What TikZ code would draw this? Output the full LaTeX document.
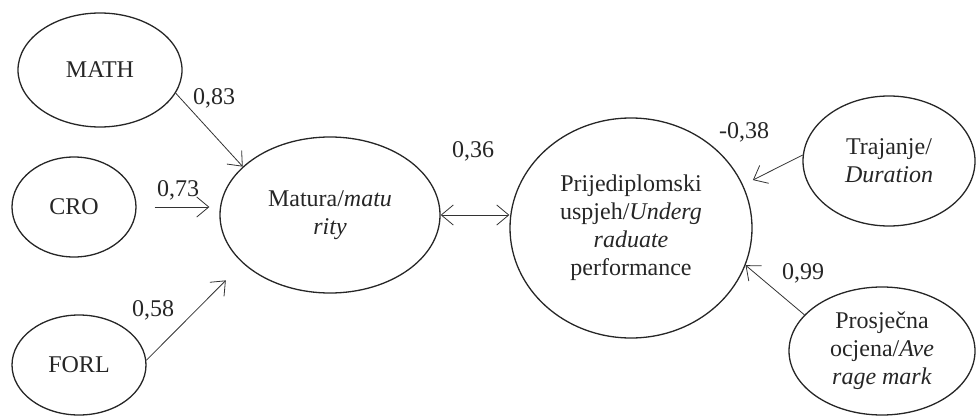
\documentclass[tikz,border=0pt]{standalone}
\usepackage{fontspec}
\setmainfont{Liberation Serif}
\usetikzlibrary{shapes.geometric,arrows.meta}
\begin{document}
\begin{tikzpicture}[x=1pt,y=-1pt,
  every node/.style={font=\fontsize{24}{28}\selectfont, text=black!85},
  lat/.style={ellipse, draw=black!85, line width=1.3pt, inner sep=0pt, align=center},
  arr/.style={draw=black!80, line width=0.8pt, -{Straight Barb[length=12pt,width=20pt,line width=0.8pt]}},
  arrb/.style={draw=black!80, line width=0.8pt, {Straight Barb[length=12pt,width=20pt,line width=0.8pt]}-{Straight Barb[length=12pt,width=20pt,line width=0.8pt]}},
  lbl/.style={inner sep=0pt}]
\useasboundingbox (0,0) rectangle (976,417);
\node[lat, minimum width=164pt, minimum height=114pt] (math) at (100,70) {MATH};
\node[lat, minimum width=124pt, minimum height=100pt] (cro) at (74,207) {CRO};
\node[lat, minimum width=134pt, minimum height=100pt] (forl) at (79,365) {FORL};
\node[lat, minimum width=220pt, minimum height=156pt] (matura) at (330,215) {Matura/\textit{matu}\\\textit{rity}};
\node[lat, minimum width=242pt, minimum height=220pt] (prij) at (631,228) {Prijediplomski\\uspjeh/\textit{Underg}\\\textit{raduate}\\performance};
\node[lat, minimum width=172pt, minimum height=130pt] (traj) at (889,161) {Trajanje/\\\textit{Duration}};
\node[lat, minimum width=186pt, minimum height=128pt] (pros) at (882,351) {Prosječna\\ocjena/\textit{Ave}\\\textit{rage mark}};

\draw[arr] (math.-17) -- (matura.151);
\draw[arr, shorten <=18pt, shorten >=10pt] (cro.east) -- (cro.east -| matura.west);
\draw[arr, shorten >=24pt] (forl.4) -- (matura.209);
\draw[arrb] (matura.east) -- (matura.east -| prij.west);
\draw[arr, shorten >=11pt] (traj.176) -- (prij.21);
\draw[arr] (pros.155) -- (prij.-18);

\node[lbl] (l1) at (214,98) {0,83};
\node[lbl] (l2) at (178,190) {0,73};
\node[lbl] (l3) at (153,310) {0,58};
\node[lbl] (l4) at (473,151) {0,36};
\node[lbl] (l5) at (744,132) {-0,38};
\node[lbl] (l6) at (803,273) {0,99};
\end{tikzpicture}
\end{document}
